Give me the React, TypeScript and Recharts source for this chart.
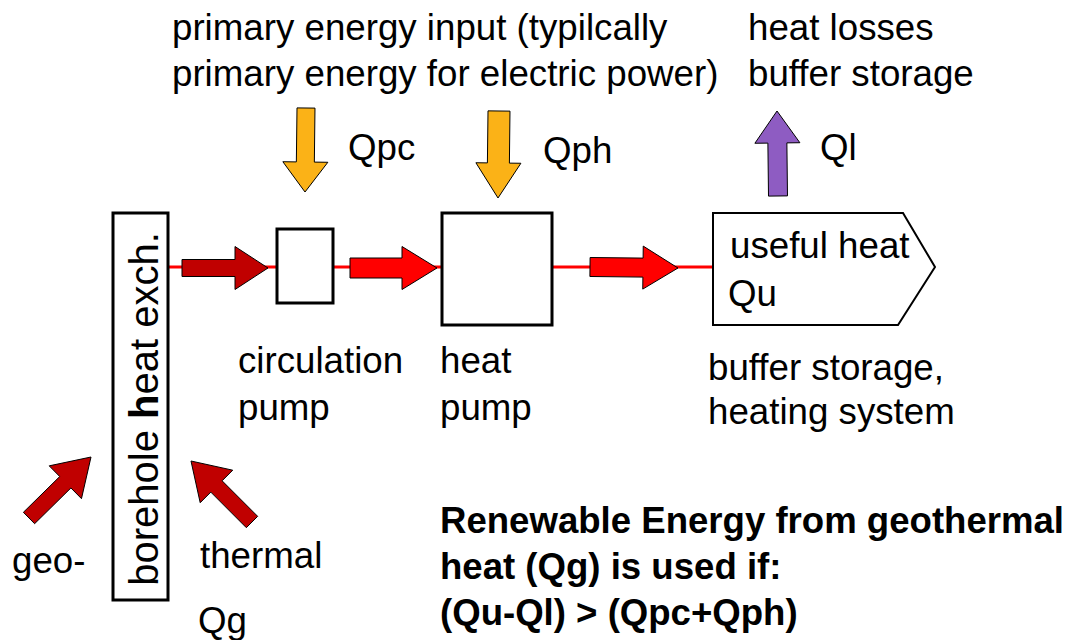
import React from 'react';
import { ComposedChart, Scatter, XAxis, YAxis } from 'recharts';

// Diagram coordinate space (x to the right, y downward)
const WIDTH = 1067;
const HEIGHT = 640;

// Component boxes
const rectNodes = [
  { id: 'borehole', x0: 113, y0: 213, x1: 168, y1: 600 },
  { id: 'circulationPump', x0: 277, y0: 229, x1: 333, y1: 303 },
  { id: 'heatPump', x0: 442, y0: 213, x1: 552, y1: 325 },
];

// Buffer storage / heating system outline (pentagon)
const storageOutline = [
  { x: 713, y: 213 },
  { x: 903, y: 213 },
  { x: 935, y: 267 },
  { x: 898, y: 325 },
  { x: 713, y: 325 },
];

// Pipe connections
const pipeSegments = [
  { x0: 168, x1: 277, y: 267 },
  { x0: 333, x1: 442, y: 267 },
  { x0: 552, x1: 713, y: 267 },
];

// Energy flow arrows: tail -> tip, shaft width, head width, head length
const geoArrows = [
  { tail: [29, 518], tip: [91, 457], shaft: 16, head: 46, headLen: 36 },
  { tail: [252, 522], tip: [191, 461], shaft: 16, head: 46, headLen: 36 },
];
const darkFlowArrows = [
  { tail: [182, 268], tip: [268, 268], shaft: 17, head: 43, headLen: 33 },
];
const flowArrows = [
  { tail: [350, 268], tip: [437, 268], shaft: 20, head: 43, headLen: 35 },
  { tail: [590, 267], tip: [678, 268], shaft: 19, head: 43, headLen: 35 },
];
const inputArrows = [
  { tail: [306, 108], tip: [305, 192], shaft: 18, head: 45, headLen: 30 },
  { tail: [499, 111], tip: [498, 198], shaft: 22, head: 45, headLen: 35 },
];
const lossArrows = [
  { tail: [778, 196], tip: [777, 111], shaft: 19, head: 45, headLen: 32 },
];

// Text labels (left x, baseline y)
const normalLabels = [
  { x: 172, y: 40, text: 'primary energy input (typilcally' },
  { x: 172, y: 86, text: 'primary energy for electric power)' },
  { x: 748, y: 40, text: 'heat losses' },
  { x: 748, y: 86, text: 'buffer storage' },
  { x: 348, y: 160, text: 'Qpc' },
  { x: 543, y: 163, text: 'Qph' },
  { x: 820, y: 160, text: 'Ql' },
  { x: 730, y: 258, text: 'useful heat' },
  { x: 728, y: 306, text: 'Qu' },
  { x: 238, y: 373, text: 'circulation' },
  { x: 238, y: 420, text: 'pump' },
  { x: 440, y: 373, text: 'heat' },
  { x: 440, y: 420, text: 'pump' },
  { x: 708, y: 380, text: 'buffer storage,' },
  { x: 708, y: 424, text: 'heating system' },
  { x: 12, y: 573, text: 'geo-' },
  { x: 200, y: 568, text: 'thermal' },
  { x: 198, y: 633, text: 'Qg' },
];
const boldLabels = [
  { x: 440, y: 533, text: 'Renewable Energy from geothermal' },
  { x: 440, y: 579, text: 'heat (Qg) is used if:' },
  { x: 440, y: 625, text: '(Qu-Ql) > (Qpc+Qph)' },
];
const rotatedLabels = [
  { x: 158, y: 409, parts: ['borehole ', 'h', 'eat exch.'] },
];

const FONT = '"Liberation Sans", Arial, Helvetica, sans-serif';

type Pt = { x: number; y: number };

function rectToPolygon(r: { x0: number; y0: number; x1: number; y1: number }): Pt[] {
  return [
    { x: r.x0, y: r.y0 },
    { x: r.x1, y: r.y0 },
    { x: r.x1, y: r.y1 },
    { x: r.x0, y: r.y1 },
    { x: r.x0, y: r.y0 },
  ];
}

function closePolygon(pts: Pt[]): Pt[] {
  return [...pts, pts[0]];
}

function arrowPolygon(a: { tail: number[]; tip: number[]; shaft: number; head: number; headLen: number }): Pt[] {
  const [tx, ty] = a.tail;
  const [px, py] = a.tip;
  const len = Math.hypot(px - tx, py - ty);
  const ux = (px - tx) / len;
  const uy = (py - ty) / len;
  const nx = -uy;
  const ny = ux;
  const bx = px - ux * a.headLen;
  const by = py - uy * a.headLen;
  const s = a.shaft / 2;
  const h = a.head / 2;
  const pts = [
    { x: tx + nx * s, y: ty + ny * s },
    { x: bx + nx * s, y: by + ny * s },
    { x: bx + nx * h, y: by + ny * h },
    { x: px, y: py },
    { x: bx - nx * h, y: by - ny * h },
    { x: bx - nx * s, y: by - ny * s },
    { x: tx - nx * s, y: ty - ny * s },
  ];
  return closePolygon(pts);
}

const noDot = () => <g />;

const NormalText = (props: any) => {
  const { cx, cy, payload } = props;
  return (
    <text x={cx} y={cy} fontFamily={FONT} fontSize={36.7} fill="#000">
      {payload.text}
    </text>
  );
};

const BoldText = (props: any) => {
  const { cx, cy, payload } = props;
  return (
    <text x={cx} y={cy} fontFamily={FONT} fontSize={36.6} fontWeight="bold" fill="#000">
      {payload.text}
    </text>
  );
};

const RotatedText = (props: any) => {
  const { cx, cy, payload } = props;
  return (
    <text
      x={cx}
      y={cy}
      fontFamily={FONT}
      fontSize={40}
      fill="#000"
      textAnchor="middle"
      transform={`rotate(-90, ${cx}, ${cy})`}
    >
      <tspan fontWeight="normal">{payload.parts[0]}</tspan>
      <tspan fontWeight="bold">{payload.parts[1]}</tspan>
      <tspan fontWeight="normal">{payload.parts[2]}</tspan>
    </text>
  );
};

export default function App() {
  return (
    <div style={{ position: 'absolute', left: 0, top: 0, width: WIDTH, height: HEIGHT, background: '#fff' }}>
      <ComposedChart width={WIDTH} height={HEIGHT} margin={{ top: 0, right: 0, bottom: 0, left: 0 }}>
        <XAxis type="number" dataKey="x" domain={[0, WIDTH]} allowDataOverflow hide />
        <YAxis type="number" dataKey="y" domain={[0, HEIGHT]} allowDataOverflow reversed hide />

        {pipeSegments.map((p, i) => (
          <Scatter
            key={`pipe-${i}`}
            data={[{ x: p.x0, y: p.y }, { x: p.x1, y: p.y }]}
            shape={noDot}
            line={{ stroke: '#ff0000', strokeWidth: 3, fill: 'none' }}
            isAnimationActive={false}
            legendType="none"
          />
        ))}

        {rectNodes.map((r) => (
          <Scatter
            key={r.id}
            data={rectToPolygon(r)}
            shape={noDot}
            line={{ stroke: '#000', strokeWidth: 3, fill: '#fff', strokeLinecap: 'square', strokeLinejoin: 'miter' }}
            isAnimationActive={false}
            legendType="none"
          />
        ))}

        <Scatter
          data={closePolygon(storageOutline)}
          shape={noDot}
          line={{ stroke: '#000', strokeWidth: 2, fill: '#fff', strokeLinecap: 'square', strokeLinejoin: 'miter' }}
          isAnimationActive={false}
          legendType="none"
        />

        {geoArrows.map((a, i) => (
          <Scatter
            key={`geo-${i}`}
            data={arrowPolygon(a)}
            shape={noDot}
            line={{ stroke: '#000', strokeWidth: 1, fill: '#c00000', strokeLinejoin: 'miter' }}
            isAnimationActive={false}
            legendType="none"
          />
        ))}
        {darkFlowArrows.map((a, i) => (
          <Scatter
            key={`dflow-${i}`}
            data={arrowPolygon(a)}
            shape={noDot}
            line={{ stroke: '#000', strokeWidth: 1, fill: '#c00000', strokeLinejoin: 'miter' }}
            isAnimationActive={false}
            legendType="none"
          />
        ))}
        {flowArrows.map((a, i) => (
          <Scatter
            key={`flow-${i}`}
            data={arrowPolygon(a)}
            shape={noDot}
            line={{ stroke: '#000', strokeWidth: 1, fill: '#ff0000', strokeLinejoin: 'miter' }}
            isAnimationActive={false}
            legendType="none"
          />
        ))}
        {inputArrows.map((a, i) => (
          <Scatter
            key={`input-${i}`}
            data={arrowPolygon(a)}
            shape={noDot}
            line={{ stroke: '#000', strokeWidth: 1, fill: '#fbb217', strokeLinejoin: 'miter' }}
            isAnimationActive={false}
            legendType="none"
          />
        ))}
        {lossArrows.map((a, i) => (
          <Scatter
            key={`loss-${i}`}
            data={arrowPolygon(a)}
            shape={noDot}
            line={{ stroke: '#000', strokeWidth: 1, fill: '#8e5cc2', strokeLinejoin: 'miter' }}
            isAnimationActive={false}
            legendType="none"
          />
        ))}

        <Scatter data={normalLabels} shape={NormalText} isAnimationActive={false} legendType="none" />
        <Scatter data={boldLabels} shape={BoldText} isAnimationActive={false} legendType="none" />
        <Scatter data={rotatedLabels} shape={RotatedText} isAnimationActive={false} legendType="none" />
      </ComposedChart>
    </div>
  );
}
